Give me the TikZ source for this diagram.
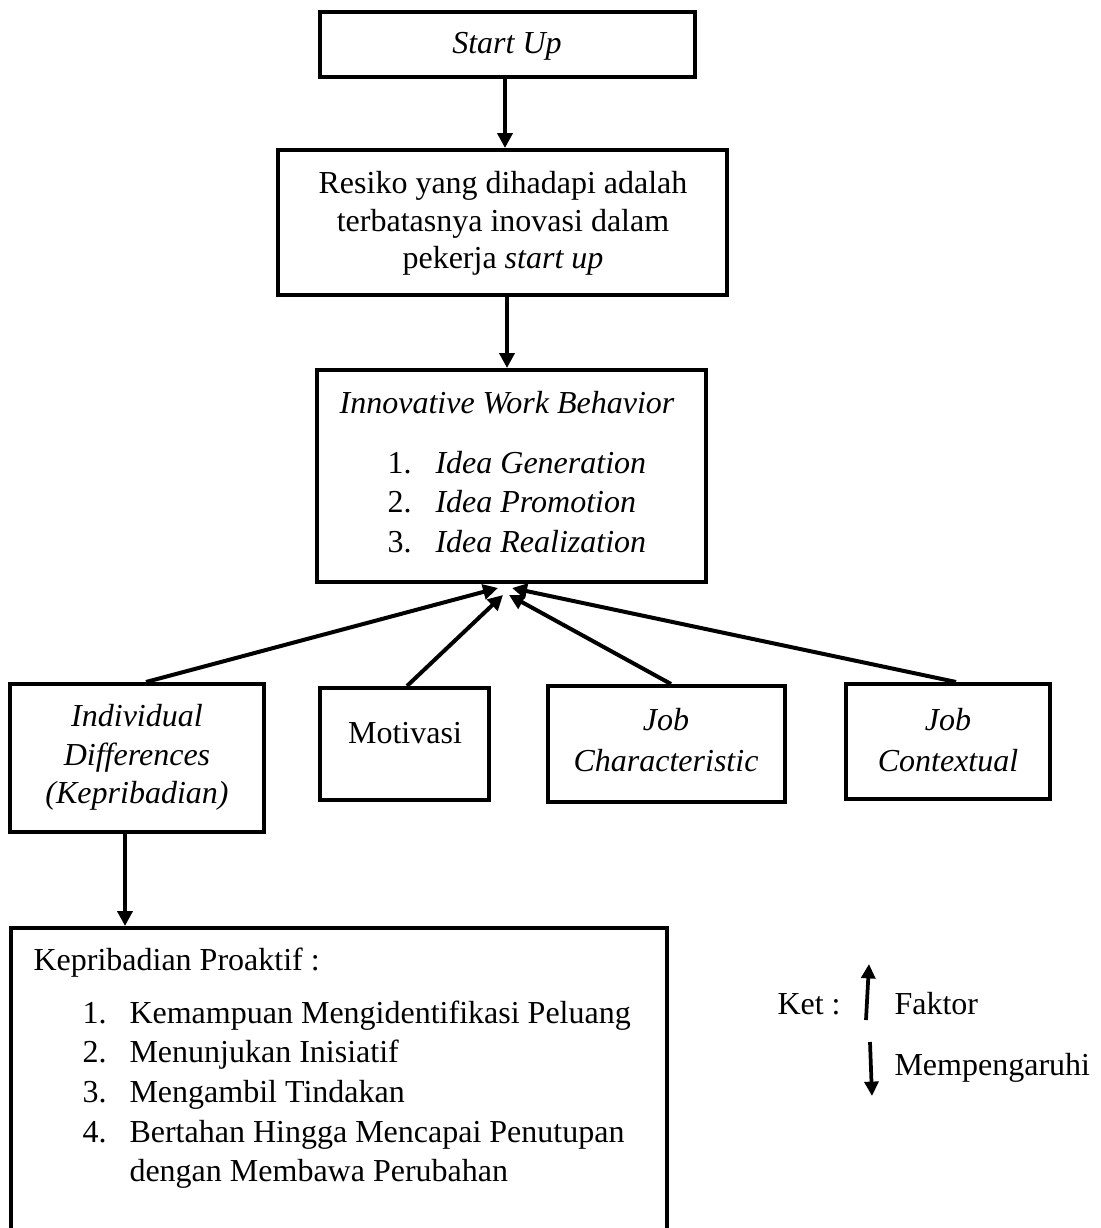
\documentclass[tikz,border=0pt]{standalone}
\usepackage{fontspec}
\setmainfont{Liberation Serif}
\usetikzlibrary{arrows.meta,fit}
\begin{document}
\begin{tikzpicture}[x=0.375pt,y=-0.375pt,
  box/.style={draw, line width=1.5pt, inner sep=0pt},
  txt/.style={inner sep=0pt, font=\fontsize{12}{14}\selectfont},
  ctxt/.style={txt, anchor=base},
  ltxt/.style={txt, anchor=base west},
  arr/.style={-{Triangle[length=5.6pt,width=5.6pt]}, line width=1.5pt},
  legarr/.style={-{Triangle[length=5.4pt,width=5.2pt]}, line width=1.4pt}]
\useasboundingbox (0,0) rectangle (1100,1228);
\clip (0,0) rectangle (1100,1228);

% boxes
\node[box, fit={(320,12) (695,77)}] (b1) {};
\node[box, fit={(278,150) (727,295)}] (b2) {};
\node[box, fit={(317,370) (706,582)}] (b3) {};
\node[box, fit={(10,684) (264,832)}] (bI) {};
\node[box, fit={(320,688) (489,800)}] (bM) {};
\node[box, fit={(548,686) (785,802)}] (bC) {};
\node[box, fit={(846,684) (1050,799)}] (bX) {};
\node[box, fit={(11,928) (667,1260)}] (bP) {};

% texts
\node[ctxt] (t1) at (507,53) {\itshape Start Up};
\node[ctxt] (t2a) at (503,193) {Resiko yang dihadapi adalah};
\node[ctxt] (t2b) at (503,231) {terbatasnya inovasi dalam};
\node[ctxt] (t2c) at (503,268) {pekerja \textit{start up}};

\node[ctxt] (t3) at (507,413) {\itshape Innovative Work Behavior};
\node[ltxt] (n31) at (387,473) {1.};
\node[ltxt] (n32) at (387,512) {2.};
\node[ltxt] (n33) at (387,552) {3.};
\node[ltxt] (i31) at (435,473) {\itshape Idea Generation};
\node[ltxt] (i32) at (435,512) {\itshape Idea Promotion};
\node[ltxt] (i33) at (435,552) {\itshape Idea Realization};

\node[ctxt] (tIa) at (137,726) {\itshape Individual};
\node[ctxt] (tIb) at (137,765) {\itshape Differences};
\node[ctxt] (tIc) at (137,803) {\itshape (Kepribadian)};
\node[ctxt] (tM) at (405,743) {Motivasi};
\node[ctxt] (tCa) at (666,730) {\itshape Job};
\node[ctxt] (tCb) at (666,771) {\itshape Characteristic};
\node[ctxt] (tXa) at (948,730) {\itshape Job};
\node[ctxt] (tXb) at (948,771) {\itshape Contextual};

\node[ltxt] (tP) at (33,970) {Kepribadian Proaktif :};
\node[ltxt] (nP1) at (82,1023) {1.};
\node[ltxt] (nP2) at (82,1062) {2.};
\node[ltxt] (nP3) at (82,1102) {3.};
\node[ltxt] (nP4) at (82,1142) {4.};
\node[ltxt] (iP1) at (129,1023) {Kemampuan Mengidentifikasi Peluang};
\node[ltxt] (iP2) at (129,1062) {Menunjukan Inisiatif};
\node[ltxt] (iP3) at (129,1102) {Mengambil Tindakan};
\node[ltxt] (iP4) at (129,1142) {Bertahan Hingga Mencapai Penutupan};
\node[ltxt] (iP5) at (129,1181) {dengan Membawa Perubahan};

% legend
\node[ltxt] (ket) at (777,1014) {Ket :};
\node[ltxt] (fak) at (894,1014) {Faktor};
\node[ltxt] (mem) at (894,1075) {Mempengaruhi};
\coordinate (lu1) at (866,1020);
\coordinate (lu2) at (869,964);
\coordinate (ld1) at (870,1042);
\coordinate (ld2) at (872,1096);
\draw[legarr] (lu1) -- (lu2);
\draw[legarr] (ld1) -- (ld2);

% connectors
\draw[arr] (505,0 |- b1.south) -- (505,0 |- b2.north);
\draw[arr] (507,0 |- b2.south) -- (507,0 |- b3.north);
\coordinate (tipI) at (498,588);
\coordinate (tipM) at (503,595);
\coordinate (tipC) at (509,595);
\coordinate (tipX) at (512,588);
\draw[arr] (146,0 |- bI.north) -- (tipI);
\draw[arr] (407,0 |- bM.north) -- (tipM);
\draw[arr] (671,0 |- bC.north) -- (tipC);
\draw[arr] (956,0 |- bX.north) -- (tipX);
\draw[arr] (125,0 |- bI.south) -- (125,0 |- bP.north);
\end{tikzpicture}
\end{document}
